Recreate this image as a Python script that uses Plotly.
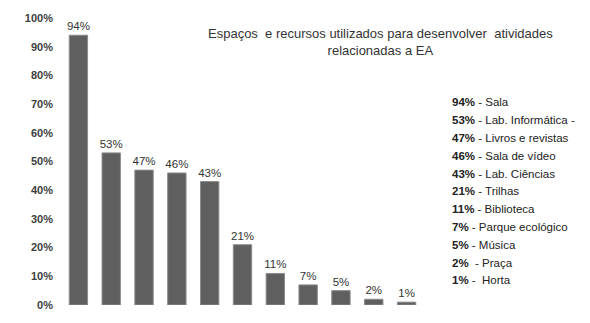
import plotly.graph_objects as go

categories = ["Sala", "Lab. Informática -", "Livros e revistas", "Sala de vídeo",
              "Lab. Ciências", "Trilhas", "Biblioteca", "Parque ecológico",
              "Música", "Praça", "Horta"]
values = [94, 53, 47, 46, 43, 21, 11, 7, 5, 2, 1]
legend_sep = [" - ", " - ", " - ", " - ", " - ", " - ", " - ", " - ", " - ", "  - ", " -  "]
tick_vals = [0, 10, 20, 30, 40, 50, 60, 70, 80, 90, 100]
tick_text = [f"{v}%" for v in tick_vals]
title_lines = ["Espaços  e recursos utilizados para desenvolver  atividades",
               "relacionadas a EA"]

FONT = "Liberation Sans"

fig = go.Figure()
fig.add_trace(go.Bar(
    x=categories, y=values,
    marker=dict(color="#5f5f5f", line=dict(color="#8c8c8c", width=1)),
    text=[f"{v}%" for v in values], textposition="outside",
    textfont=dict(family=FONT, size=11.5, color="#333333"),
    constraintext="none", cliponaxis=False,
))

# title
fig.add_annotation(xref="paper", yref="paper", x=(380 - 62) / (423 - 62),
                   y=(306 - 22) / 290.5,
                   xanchor="center", yanchor="top", showarrow=False,
                   text="<br>".join(title_lines), align="center",
                   font=dict(family=FONT, size=13, color="#333333"))

# legend text lines
for i, (c, v, s) in enumerate(zip(categories, values, legend_sep)):
    fig.add_annotation(xref="paper", yref="paper",
                       x=(450 - 62) / (423 - 62), y=(306 - (101 + 18 * i)) / 290.5,
                       xanchor="left", yanchor="middle", showarrow=False,
                       text=f"<b>{v}%</b>{s}{c}",
                       font=dict(family=FONT, size=11.5, color="#222222"))

fig.update_layout(
    width=590, height=323,
    margin=dict(l=62, r=167, t=16, b=17),
    paper_bgcolor="white", plot_bgcolor="white",
    bargap=0.44, showlegend=False,
    xaxis=dict(showticklabels=False, showgrid=False, zeroline=False,
               showline=False, range=[-0.5, 10.5]),
    yaxis=dict(range=[0, 100], tickvals=tick_vals,
               ticktext=[f"<b>{t}</b>" for t in tick_text],
               showgrid=False, zeroline=False, showline=False,
               tickfont=dict(family=FONT, size=11, color="#404040"),
               ticks="", ticklabelstandoff=8),
)

fig.write_html("out.html")
